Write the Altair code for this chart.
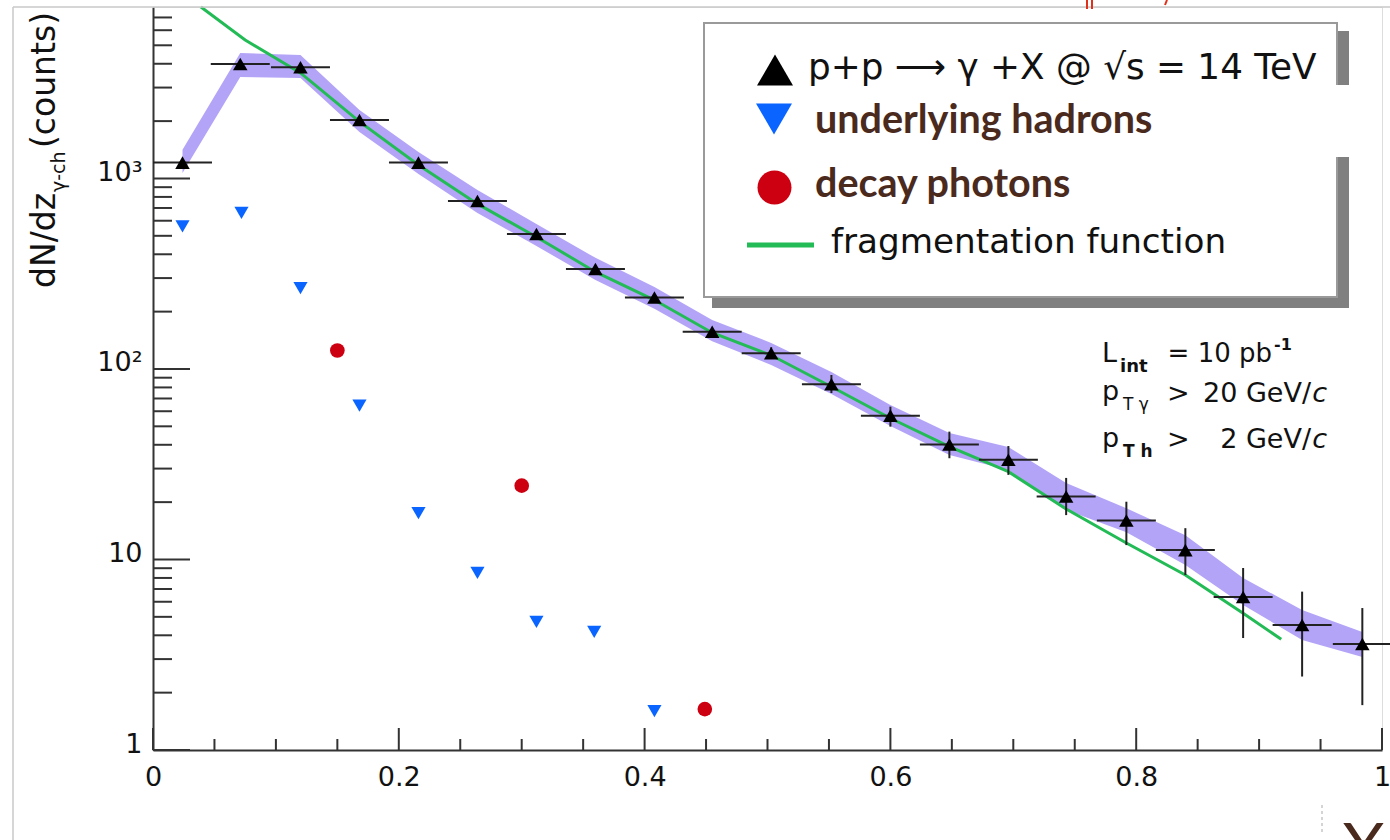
import altair as alt
import pandas as pd

# ---------------- data ----------------
# p+p -> gamma + X  (black triangles)
pp_x = [0.024, 0.071, 0.120, 0.168, 0.216, 0.264, 0.312, 0.360, 0.408, 0.455, 0.503,
        0.552, 0.600, 0.648, 0.696, 0.743, 0.792, 0.840, 0.887, 0.935, 0.984]
pp_y = [1211, 3990, 3835, 2028, 1211, 762, 511, 335, 237, 157, 121,
        83.1, 56.9, 40.1, 33.4, 21.4, 16.0, 11.2, 6.36, 4.53, 3.60]
pp_lo = [1211, 3990, 3835, 2028, 1211, 762, 511, 335, 237, 157, 113,
         74.8, 49.8, 34.0, 27.8, 17.1, 11.9, 8.29, 3.87, 2.43, 1.72]
pp_hi = [1211, 3990, 3835, 2028, 1211, 762, 511, 335, 237, 157, 130,
         93.0, 63.4, 46.9, 39.4, 26.8, 20.1, 14.6, 9.02, 6.78, 5.56]
pp_xerr = 0.024
# systematic band (lavender)
band_lo = [1069, 3412, 3371, 1754, 1056, 659, 442, 293, 207, 140, 105,
           73.9, 50.2, 35.4, 29.5, 18.2, 13.9, 9.36, 5.77, 3.78, 3.08]
band_hi = [1413, 4560, 4449, 2290, 1377, 870, 577, 383, 269, 181, 137,
           96.4, 64.7, 46.1, 39.0, 25.2, 18.6, 13.4, 8.0, 5.43, 4.16]
# underlying hadrons (blue down triangles)
had_x = [0.024, 0.072, 0.120, 0.168, 0.216, 0.264, 0.312, 0.359, 0.408]
had_y = [561, 660, 266, 64.2, 17.5, 8.51, 4.71, 4.17, 1.60]
# decay photons (red circles)
dec_x = [0.150, 0.300, 0.449]
dec_y = [125, 24.4, 1.64]
# fragmentation function (green line)
frag_x = [0.039, 0.075, 0.120, 0.168, 0.216, 0.264, 0.312, 0.360, 0.408, 0.455,
          0.503, 0.552, 0.600, 0.648, 0.696, 0.743, 0.792, 0.840, 0.887, 0.918]
frag_y = [7943, 5333, 3579, 1987, 1178, 735, 493, 323, 230, 155,
          118, 80.7, 55.1, 39.1, 28.9, 18.4, 12.2, 8.29, 5.22, 3.81]

# axis ticks
x_major = [0, 0.2, 0.4, 0.6, 0.8, 1.0]
x_minor = [0.05, 0.1, 0.15, 0.25, 0.3, 0.35, 0.45, 0.5, 0.55, 0.65, 0.7, 0.75,
           0.85, 0.9, 0.95]
y_major = [1, 10, 100, 1000]
y_minor = [2, 3, 4, 5, 6, 7, 8, 9, 20, 30, 40, 50, 60, 70, 80, 90,
           200, 300, 400, 500, 600, 700, 800, 900, 2000, 3000, 4000, 5000, 6000, 7000]

# ---------------- layout ----------------
L, T, R, B = 153, 7, 8, 90
W, H = 1390 - L - R, 840 - T - B
FONT = "DejaVu Sans"
BROWN = "#4b2a1e"
BLUE = "#0a64ff"
RED = "#cc0011"
GREEN = "#22bb55"
LAV = "#b4a4f8"

xs = alt.Scale(domain=[0, 1], nice=False, zero=False)
ys = alt.Scale(type="log", domain=[1, 7943], nice=False)

x_axis = alt.Axis(values=x_major, format="~g", ticks=False, grid=False,
                  domainColor="#333333", domainWidth=2, labelFont=FONT,
                  labelFontSize=27, labelColor="#111111", labelPadding=14,
                  labelFlush=False, labelOverlap=False, title=None)
y_axis = alt.Axis(values=y_major,
                  labelExpr="datum.value == 1 ? '1' : datum.value == 10 ? '10' : datum.value == 100 ? '10\u00b2' : '10\u00b3'",
                  ticks=False, grid=False, domainColor="#333333", domainWidth=2,
                  labelFont=FONT, labelFontSize=27, labelColor="#111111",
                  labelPadding=11, labelBaseline="alphabetic", labelOffset=2,
                  labelFlush=False, labelOverlap=False, title=None)


def XQ(f):
    return alt.X(f, type="quantitative", scale=xs, axis=x_axis)


def YQ(f):
    return alt.Y(f, type="quantitative", scale=ys, axis=y_axis)


one = pd.DataFrame({"a": [0]})


def px(v):
    return v - L


def py(v):
    return v - T


def txt(s, x, y, size, font=FONT, color="#111111", weight="normal", style="normal",
        align="left", baseline="alphabetic", angle=0):
    return alt.Chart(one).mark_text(
        text=s, font=font, fontSize=size, color=color, fontWeight=weight,
        fontStyle=style, align=align, baseline=baseline, angle=angle
    ).encode(x=alt.value(px(x)), y=alt.value(py(y)))


def rule(x1, y1, x2, y2, color, width=2, dash=None):
    kw = dict(color=color, strokeWidth=width)
    if dash:
        kw["strokeDash"] = dash
    return alt.Chart(one).mark_rule(**kw).encode(
        x=alt.value(px(x1)), y=alt.value(py(y1)),
        x2=alt.value(px(x2)), y2=alt.value(py(y2)))


def rect(x1, y1, x2, y2, fill, stroke=None, sw=0):
    kw = dict(fill=fill)
    if stroke:
        kw.update(stroke=stroke, strokeWidth=sw)
    return alt.Chart(one).mark_rect(**kw).encode(
        x=alt.value(px(x1)), y=alt.value(py(y1)),
        x2=alt.value(px(x2)), y2=alt.value(py(y2)))


def sym(shape, x, y, size, color):
    return alt.Chart(one).mark_point(shape=shape, filled=True, size=size, color=color,
                                     opacity=1).encode(
        x=alt.value(px(x)), y=alt.value(py(y)))


pp = pd.DataFrame({"x": pp_x, "y": pp_y, "lo": pp_lo, "hi": pp_hi,
                   "blo": band_lo, "bhi": band_hi})
pp["xl"] = pp["x"] - pp_xerr
pp["xr"] = pp["x"] + pp_xerr

had = pd.DataFrame({"x": had_x, "y": had_y})
dec = pd.DataFrame({"x": dec_x, "y": dec_y})
frag = pd.DataFrame({"x": frag_x, "y": frag_y})

band = alt.Chart(pp).mark_area(color=LAV, opacity=1).encode(
    x=XQ("x"), y=YQ("blo"), y2="bhi:Q")

green = alt.Chart(frag).mark_line(color=GREEN, strokeWidth=3).encode(
    x=XQ("x"), y=YQ("y"))

hbar = alt.Chart(pp).mark_rule(color="#222222", strokeWidth=2).encode(
    x=XQ("xl"), x2="xr:Q", y=YQ("y"))
vbar = alt.Chart(pp).mark_rule(color="#222222", strokeWidth=2).encode(
    x=XQ("x"), y=YQ("lo"), y2="hi:Q")
pts = alt.Chart(pp).mark_point(shape="triangle-up", filled=True, size=210,
                               color="black", opacity=1).encode(x=XQ("x"), y=YQ("y"))
hpts = alt.Chart(had).mark_point(shape="triangle-down", filled=True, size=200,
                                 color=BLUE, opacity=1).encode(x=XQ("x"), y=YQ("y"))
dpts = alt.Chart(dec).mark_point(shape="circle", filled=True, size=215,
                                 color=RED, opacity=1).encode(x=XQ("x"), y=YQ("y"))

# inward ticks
TCOL = "#333333"
ymaj = alt.Chart(pd.DataFrame({"v": y_major})).mark_rule(color=TCOL, strokeWidth=2).encode(
    y=YQ("v"), x=alt.value(0), x2=alt.value(37))
ymin = alt.Chart(pd.DataFrame({"v": y_minor})).mark_rule(color=TCOL, strokeWidth=2).encode(
    y=YQ("v"), x=alt.value(0), x2=alt.value(19))
xmaj = alt.Chart(pd.DataFrame({"v": x_major})).mark_rule(color=TCOL, strokeWidth=2).encode(
    x=XQ("v"), y=alt.value(H), y2=alt.value(H - 22))
xmin = alt.Chart(pd.DataFrame({"v": x_minor})).mark_rule(color=TCOL, strokeWidth=2).encode(
    x=XQ("v"), y=alt.value(H), y2=alt.value(H - 11))

layers = [band, green, hbar, vbar, pts, hpts, dpts, ymaj, ymin, xmaj, xmin]

# legend box
layers += [
    rect(712, 31, 1349, 308, "#808080"),
    rect(704, 23, 1337, 297, "#ffffff", "#9a9a9a", 2),
    rect(1336, 85, 1356, 157, "#ffffff"),
    sym("triangle-up", 775, 70, 1296, "black"),
    sym("triangle-down", 774, 119, 1296, BLUE),
    sym("circle", 774.5, 187.5, 1156, RED),
    rule(747, 245, 814, 245, GREEN, 5),
    txt("p+p \u27f6 \u03b3 +X  @  \u221as = 14 TeV", 808, 79, 35.8),
    txt("underlying hadrons", 815, 133, 39.5, font="Lato", color=BROWN, weight="bold"),
    txt("decay photons", 815, 197, 39.5, font="Lato", color=BROWN, weight="bold"),
    txt("fragmentation function", 831, 253, 34.2),
]

# cut annotation block
layers += [
    txt("L", 1102, 362, 27),
    txt("int", 1120, 372, 18, weight="bold"),
    txt("= 10 pb", 1272, 362, 26, align="right"),
    txt("-1", 1274, 350, 16, weight="bold"),
    txt("p", 1102, 400, 27),
    txt("T \u03b3", 1123, 410, 17),
    txt(">", 1167, 402, 27),
    txt("20 GeV/", 1311, 402, 27, align="right"),
    txt("c", 1327, 402, 27, style="italic", align="right"),
    txt("p", 1102, 447, 27),
    txt("T h", 1123, 457, 17, weight="bold"),
    txt(">", 1167, 448, 27),
    txt("2 GeV/", 1311, 448, 27, align="right"),
    txt("c", 1327, 448, 27, style="italic", align="right"),
]

# y-axis title (rotated)
layers += [
    txt("dN/dz", 55, 288, 33, angle=270),
    txt("\u03b3-ch", 65, 192, 19, angle=270),
    txt("(counts)", 55, 148, 33, angle=270),
]

# page decorations
layers += [
    rule(13, 7, 1390, 7, "#c8c8c8", 1.5),
    rule(13, 7, 13, 840, "#c8c8c8", 1.5),
    rule(1087, 0, 1087, 9, "#e0301a", 2),
    rule(1092, 0, 1092, 9, "#e0301a", 2),
    rule(1167, 0, 1165, 5, "#e0301a", 2),
    rule(1322, 805, 1322, 832, "#aaaaaa", 1, [3, 3]),
    txt("X", 1342, 818, 66, font="Lato", color=BROWN, baseline="top"),
]

chart = alt.layer(*layers).properties(
    width=W, height=H,
    padding={"left": L, "top": T, "right": R, "bottom": B},
    autosize=alt.AutoSizeParams(type="none"),
).configure_view(stroke=None).configure(background="white")

chart.save("out.html", embed_options={"renderer": "svg", "actions": False})
